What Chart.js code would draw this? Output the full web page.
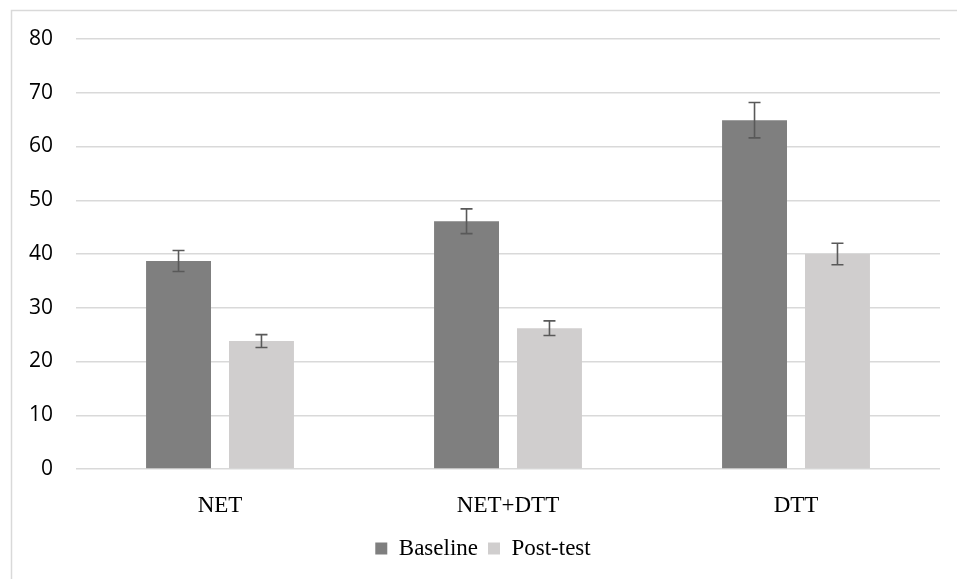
<!DOCTYPE html>
<html>
<head>
<meta charset="utf-8">
<script src="https://cdn.jsdelivr.net/npm/chart.js@4.4.0/dist/chart.umd.min.js"></script>
<style>
html,body{margin:0;padding:0;background:#fff;}
#wrap{width:957px;height:579px;position:relative;}
</style>
</head>
<body>
<div id="wrap"><canvas id="c" width="957" height="579"></canvas></div>
<script>
const categories = ["NET", "NET+DTT", "DTT"];
const baselineValues = [38.7, 46.1, 64.9];
const baselineErrors = [1.95, 2.3, 3.3];
const postValues = [23.8, 26.2, 40.0];
const postErrors = [1.2, 1.35, 2.0];
const yTicks = [0, 10, 20, 30, 40, 50, 60, 70, 80];

const frame = {
  id: 'frame',
  beforeDraw(chart) {
    const ctx = chart.ctx;
    ctx.save();
    ctx.fillStyle = '#fff';
    ctx.fillRect(0, 0, chart.width, chart.height);
    ctx.strokeStyle = '#d9d9d9';
    ctx.lineWidth = 1.5;
    ctx.strokeRect(11.5, 10.5, chart.width + 20, chart.height + 20);
    ctx.restore();
  }
};

const errorBars = {
  id: 'errorBars',
  afterDatasetsDraw(chart) {
    const ctx = chart.ctx;
    const y = chart.scales.y;
    ctx.save();
    ctx.strokeStyle = '#595959';
    ctx.lineWidth = 1.6;
    chart.data.datasets.forEach((ds, di) => {
      const meta = chart.getDatasetMeta(di);
      meta.data.forEach((el, i) => {
        const v = ds.data[i], e = ds.errors[i];
        const yt = y.getPixelForValue(v + e), yb = y.getPixelForValue(v - e);
        const x = el.x, hw = 6;
        ctx.beginPath();
        ctx.moveTo(x, yt); ctx.lineTo(x, yb);
        ctx.moveTo(x - hw, yt); ctx.lineTo(x + hw, yt);
        ctx.moveTo(x - hw, yb); ctx.lineTo(x + hw, yb);
        ctx.stroke();
      });
    });
    ctx.restore();
  }
};

new Chart(document.getElementById('c'), {
  type: 'bar',
  data: {
    labels: categories,
    datasets: [
      { label: 'Baseline', data: baselineValues, errors: baselineErrors, backgroundColor: '#7f7f7f',
        barPercentage: 0.783, categoryPercentage: 0.576 },
      { label: 'Post-test', data: postValues, errors: postErrors, backgroundColor: '#d0cece',
        barPercentage: 0.783, categoryPercentage: 0.576 }
    ]
  },
  options: {
    responsive: false,
    animation: false,
    devicePixelRatio: 1,
    layout: { padding: { left: 26, right: 17, top: 39, bottom: 9 } },
    plugins: {
      tooltip: { enabled: false },
      legend: {
        position: 'bottom',
        labels: {
          font: { family: 'Liberation Serif', size: 23 },
          color: '#000',
          boxWidth: 12, boxHeight: 12, padding: 10
        }
      }
    },
    scales: {
      x: {
        afterFit(s) { s.height = 58; },
        grid: { display: false },
        border: { display: false },
        ticks: { font: { family: 'Liberation Serif', size: 23 }, color: '#000', padding: 15 }
      },
      y: {
        min: 0, max: 80,
        afterFit(s) { s.width = 50; },
        afterBuildTicks(s) { s.ticks = yTicks.map(v => ({ value: v })); },
        grid: { color: '#d9d9d9', lineWidth: 1.5, drawTicks: false },
        border: { display: false },
        ticks: { font: { family: 'Open Sans', size: 21 }, color: '#000', padding: 23 }
      }
    }
  },
  plugins: [frame, errorBars]
});
</script>
</body>
</html>
